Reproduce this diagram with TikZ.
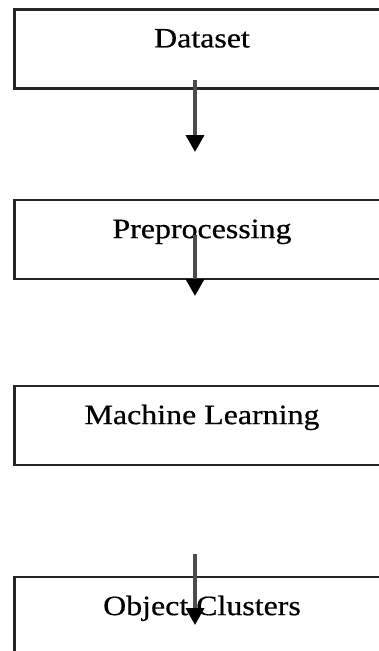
\documentclass[tikz,border=0pt]{standalone}
\usepackage{fontspec}
\newfontfamily\reffont[FakeStretch=1.14,FakeBold=0.6]{Liberation Serif}
\usetikzlibrary{arrows.meta}
\begin{document}
\begin{tikzpicture}[x=1pt,y=-1pt,
  stagebox/.style={draw=black!85, line width=2.2pt, minimum width=375pt,
    minimum height=79pt, inner sep=0pt, text height=19pt, text depth=22pt,
    anchor=north, font=\reffont\fontsize{28}{32}\selectfont, text=black},
  flowarrow/.style={draw=black!70, line width=3.6pt,
    -{Triangle[width=18pt,length=17pt,color=black]}}]
\useasboundingbox (0,0) rectangle (379,651);
\clip (0,0) rectangle (379,651);
\fill[white] (0,0) rectangle (379,651);
\node[stagebox] (dataset) at (202,8.3) {Dataset};
\node[stagebox] (prep) at (202,199) {Preprocessing};
\node[stagebox] (ml) at (202,385) {Machine Learning};
\node[stagebox] (clusters) at (202,576) {Object Clusters};
\coordinate (a1s) at (195,80);
\coordinate (a1e) at (195,152);
\coordinate (a2s) at (195,235);
\coordinate (a2e) at (195,296);
\coordinate (a3s) at (195,554);
\coordinate (a3e) at (195,625);
\draw[flowarrow] (a1s) -- (a1e);
\draw[flowarrow] (a2s) -- (a2e);
\draw[flowarrow] (a3s) -- (a3e);
\end{tikzpicture}
\end{document}
